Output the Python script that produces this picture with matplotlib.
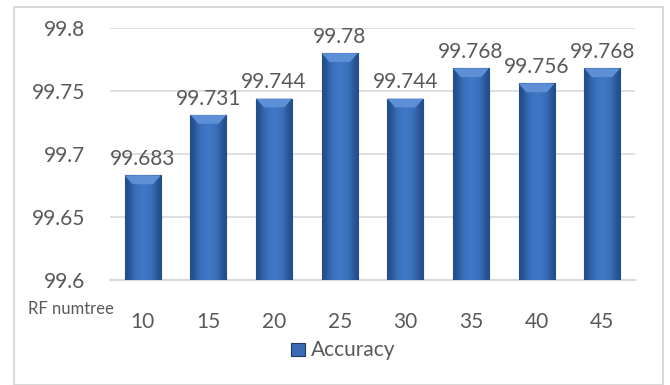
import numpy as np
import matplotlib
matplotlib.use('Agg')
import matplotlib.pyplot as plt
from matplotlib.patches import Rectangle, Polygon

numtree = ['10', '15', '20', '25', '30', '35', '40', '45']
accuracy = [99.683, 99.731, 99.744, 99.78, 99.744, 99.768, 99.756, 99.768]
yticks = [99.6, 99.65, 99.7, 99.75, 99.8]
ytick_labels = ['99.6', '99.65', '99.7', '99.75', '99.8']

txt = '#595959'
grid = '#d9d9d9'
plt.rcParams['font.family'] = ['Lato', 'DejaVu Sans']

fig = plt.figure(figsize=(6.7, 3.85), dpi=100)
# light frame round the whole chart
fig.patches.append(Rectangle((14/670, 0.0), 649/670, 1-7/385, transform=fig.transFigure,
                             fill=False, edgecolor=grid, linewidth=1.5))

ax = fig.add_axes([110/670, 1-280/385, 525/670, 252/385])
x = np.arange(len(numtree))
w = 0.55
bars = ax.bar(x, [a - 99.6 for a in accuracy], width=w, bottom=99.6,
              color='#3a6bb5', edgecolor='#1d3a66', linewidth=0.8, zorder=3)

# horizontal shading on each bar, lighter in the middle
grad = np.array([[0.0, 0.6, 0.9, 1.0, 0.9, 0.6, 0.0]])
cmap = matplotlib.colors.LinearSegmentedColormap.from_list('bar', ['#234c8a', '#4079c8'])
for b, a in zip(bars, accuracy):
    x0 = b.get_x()
    im = ax.imshow(grad, extent=(x0, x0 + w, 99.6, a), aspect='auto', cmap=cmap,
                   interpolation='bicubic', zorder=3.5)
    im.set_clip_path(b)
    # bevel on the top edge
    bev = 0.007
    ax.add_patch(Polygon([(x0, a), (x0 + w, a), (x0 + w - 0.12, a - bev), (x0 + 0.12, a - bev)],
                         closed=True, facecolor='#5d8fd6', edgecolor='none', zorder=3.6))
    ax.text(b.get_x() + w / 2, a + 0.005, str(a), ha='center', va='bottom',
            fontsize=15, color=txt, clip_on=False, zorder=5)

ax.set_xlim(-0.5, len(numtree) - 0.5)
ax.set_ylim(99.6, 99.8)
ax.set_yticks(yticks)
ax.set_yticklabels(ytick_labels)
ax.set_xticks(x)
ax.set_xticklabels(numtree)
ax.tick_params(axis='both', length=0, labelsize=15, colors=txt)
ax.tick_params(axis='x', pad=23)
ax.tick_params(axis='y', pad=18)
for s in ['top', 'right', 'left']:
    ax.spines[s].set_visible(False)
ax.spines['bottom'].set_color(grid)
ax.spines['bottom'].set_linewidth(1.5)
ax.yaxis.grid(True, color=grid, linewidth=1.2, zorder=0)
ax.set_axisbelow(True)

fig.text(71/670, 1-309/385, 'RF numtree', ha='center', va='center', fontsize=12, color=txt)

# legend entry
fig.patches.append(Rectangle((291/670, 1-356/385), 14/670, 13/385, transform=fig.transFigure,
                             facecolor='#3a6bb5', edgecolor='#1d3a66', linewidth=0.8))
fig.text(311/670, 1-350/385, 'Accuracy', ha='left', va='center', fontsize=15, color=txt)

fig.savefig('out.png', dpi=100)
